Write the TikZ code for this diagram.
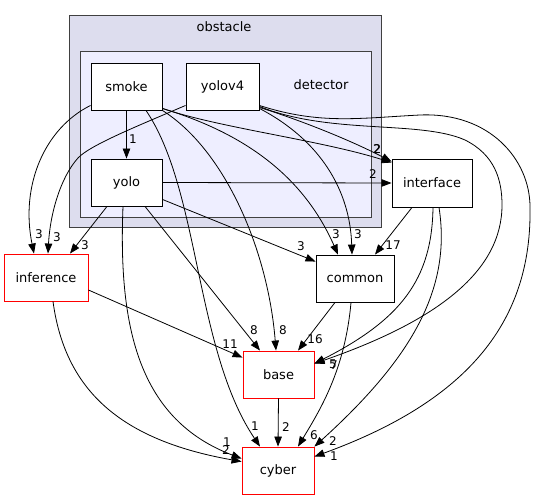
\documentclass[tikz,border=0pt]{standalone}
\usepackage{fontspec}
\setmainfont{DejaVu Sans}
\usetikzlibrary{arrows.meta}
\definecolor{clusterfill}{RGB}{221,221,238}
\definecolor{detectorfill}{RGB}{238,238,255}
\definecolor{clusterline}{RGB}{64,64,64}
\definecolor{truncred}{RGB}{255,0,0}

\begin{document}
\begin{tikzpicture}[
    x=1pt, y=-1pt,
    cluster/.style={draw=clusterline, fill=clusterfill, line width=1pt, minimum width=312pt, minimum height=211pt},
    subcluster/.style={draw=clusterline, fill=detectorfill, line width=1pt, minimum width=291pt, minimum height=165pt},
    dirnode/.style={draw=black, fill=white, line width=0.9pt, minimum height=47pt, inner sep=0pt, font=\fontsize{13}{15}\selectfont},
    truncnode/.style={dirnode, draw=truncred},
    clusterlbl/.style={font=\fontsize{13}{15}\selectfont, inner sep=0pt},
    lbl/.style={font=\fontsize{12}{14}\selectfont, inner sep=0pt},
    arrow/.style={-{Triangle[length=10pt, width=7.5pt]}, line width=0.8pt}
]
\useasboundingbox (0,0) rectangle (535,500);

% clusters
\node[cluster] (obstacle) at (225,121.5) {};
\node[clusterlbl] (obstaclelbl) at (224,27) {obstacle};
\node[subcluster] (detector) at (225.5,134.5) {};
\node[clusterlbl] (detectorlbl) at (321,85) {detector};

% directories inside detector
\node[dirnode, minimum width=71pt] (smoke) at (126.5,86.5) {smoke};
\node[dirnode, minimum width=73pt] (yolov4) at (222.5,86.5) {yolov4};
\node[dirnode, minimum width=71pt] (yolo) at (126.5,182.5) {yolo};

% other directories
\node[dirnode, minimum width=80pt, minimum height=48pt] (interface) at (432,183) {interface};
\node[dirnode, minimum width=78pt] (common) at (355,278.5) {common};
\node[truncnode, minimum width=84pt] (inference) at (46,277.5) {inference};
\node[truncnode, minimum width=71pt] (base) at (278.5,374.5) {base};
\node[truncnode, minimum width=72pt] (cyber) at (278,470.5) {cyber};

% smoke
\draw[arrow] (smoke.south) -- (yolo.north) node[lbl] at (133,139) {1};
\draw[arrow] ([yshift=5pt]smoke.south west) .. controls (45,128) and (20,185) .. ([xshift=-12pt]inference.north) node[lbl] at (39,234) {3};
\draw[arrow] ([yshift=2pt]smoke.south east) .. controls (220,128) and (320,140) .. ([yshift=-4pt]interface.north west) node[lbl] at (377,149) {2};
\draw[arrow] ([yshift=2pt]smoke.south east) .. controls (250,135) and (305,180) .. ([xshift=-17pt]common.north) node[lbl] at (336,234) {3};
\draw[arrow] (smoke.south east) .. controls (225,150) and (268,250) .. ([xshift=-2.5pt]base.north) node[lbl] at (283,330) {8};
\draw[arrow] ([xshift=19.5pt]smoke.south) .. controls (200,190) and (195,350) .. ([xshift=-18pt]cyber.north) node[lbl] at (255,426) {1};

% yolov4
\draw[arrow] ([yshift=5pt]yolov4.south west) .. controls (140,125) and (90,145) .. (78,158) .. controls (60,178) and (50,215) .. ([xshift=2pt]inference.north) node[lbl] at (57,237) {3};
\draw[arrow] ([yshift=3pt]yolov4.south east) .. controls (300,120) and (350,140) .. ([yshift=-3pt]interface.north west) node[lbl] at (377.5,149.5) {2};
\draw[arrow] ([yshift=2pt]yolov4.south east) .. controls (320,140) and (350,190) .. ([xshift=-3pt]common.north) node[lbl] at (358,234) {3};
\draw[arrow] ([yshift=4pt]yolov4.south east) .. controls (330,135) and (420,120) .. (465,140) .. controls (495,155) and (502,180) .. (502,205) .. controls (502,270) and (440,320) .. ([yshift=-13pt]base.north east) node[lbl] at (334,365) {7};
\draw[arrow] ([yshift=5pt]yolov4.south east) .. controls (320,125) and (360,118) .. (420,115) .. controls (490,112) and (530,160) .. (530,207) .. controls (532,320) and (470,400) .. ([yshift=-10pt]cyber.north east) node[lbl] at (334,456) {1};

% yolo
\draw[arrow] ([xshift=-19.5pt]yolo.south) -- ([xshift=24pt]inference.north) node[lbl] at (85,245) {3};
\draw[arrow] (yolo.east) -- (interface.west) node[lbl] at (373,174) {2};
\draw[arrow] ([yshift=7pt]yolo.south east) -- ([yshift=-7pt]common.north west) node[lbl] at (301,246) {3};
\draw[arrow] ([xshift=18.5pt]yolo.south) -- ([xshift=-18.5pt]base.north) node[lbl] at (254,330) {8};
\draw[arrow] ([xshift=-3.5pt]yolo.south) .. controls (118,330) and (140,420) .. ([yshift=-12pt]cyber.north west) node[lbl] at (227,442) {1};

% interface
\draw[arrow] ([xshift=-20pt]interface.south) -- ([xshift=20pt]common.north) node[lbl] at (393,245) {17};
\draw[arrow] ([xshift=1pt]interface.south) .. controls (432,280) and (400,320) .. ([yshift=-13pt]base.north east) node[lbl] at (333,364) {5};
\draw[arrow] ([xshift=7pt]interface.south) .. controls (452,290) and (410,360) .. (cyber.north east) node[lbl] at (333,441) {2};

% inference
\draw[arrow] ([yshift=-12.5pt]inference.east) -- ([yshift=-7pt]base.north west) node[lbl] at (230,344) {11};
\draw[arrow] ([xshift=7pt]inference.south) .. controls (65,390) and (120,440) .. ([yshift=-15pt]cyber.north west) node[lbl] at (226,450) {2};

% common
\draw[arrow] ([xshift=-20pt]common.south) -- ([xshift=19.5pt]base.north) node[lbl] at (315,339) {16};
\draw[arrow] ([xshift=-4pt]common.south) .. controls (345,370) and (320,410) .. ([xshift=20pt]cyber.north) node[lbl] at (314,435) {6};

% base
\draw[arrow] (base.south) -- (cyber.north) node[lbl] at (286,427) {2};

\end{tikzpicture}
\end{document}
